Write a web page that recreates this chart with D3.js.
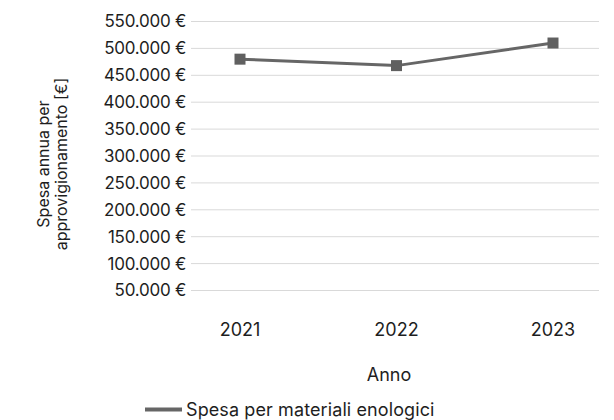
<!DOCTYPE html>
<html><head><meta charset="utf-8">
<script src="https://cdn.jsdelivr.net/npm/d3@7"></script>
<style>
html,body{margin:0;padding:0;background:#fff;}
svg text{font-family:Inter,"Noto Sans",sans-serif;fill:#1e1e1e;}
</style></head>
<body>
<svg id="c" width="614" height="420"></svg>
<script>
const categories = ["2021", "2022", "2023"];
const values = [480000, 468000, 510000];
const yTicks = [50000,100000,150000,200000,250000,300000,350000,400000,450000,500000,550000];
const seriesName = "Spesa per materiali enologici";
const xTitle = "Anno";
const yTitle = ["Spesa annua per", "approvigionamento [€]"];

const svg = d3.select("#c");
const locale = d3.formatLocale({decimal: ",", thousands: ".", grouping: [3], currency: ["", " €"]});
const fmt = v => locale.format(",d")(v) + " €";

const y = d3.scaleLinear().domain([50000, 550000]).range([290.5, 21.5]);
const x = d3.scalePoint().domain(categories).range([240, 553]);
const gridX0 = 191, gridX1 = 599;

// gridlines
svg.append("g").selectAll("line").data(yTicks).join("line")
  .attr("x1", gridX0).attr("x2", gridX1)
  .attr("y1", d => y(d)).attr("y2", d => y(d))
  .attr("stroke", "#d9d9d9").attr("stroke-width", 1);

// y labels
svg.append("g").selectAll("text").data(yTicks).join("text")
  .attr("x", 186).attr("y", d => y(d)).attr("dy", "0.35em")
  .attr("text-anchor", "end").attr("font-size", 17)
  .attr("letter-spacing", "-0.25")
  .text(fmt);

// x labels
svg.append("g").selectAll("text").data(categories).join("text")
  .attr("x", d => x(d)).attr("y", 330).attr("dy", "0.35em")
  .attr("text-anchor", "middle").attr("font-size", 18)
  .text(d => d);

// line
const line = d3.line().x((d, i) => x(categories[i])).y(d => y(d));
svg.append("path").datum(values).attr("d", line)
  .attr("fill", "none").attr("stroke", "#666666").attr("stroke-width", 3);

// markers
svg.append("g").selectAll("rect").data(values).join("rect")
  .attr("x", (d, i) => x(categories[i]) - 5.5)
  .attr("y", d => y(d) - 5.5)
  .attr("width", 11).attr("height", 11)
  .attr("fill", "#606060");

// axis titles
svg.append("text").attr("x", 389).attr("y", 375).attr("dy", "0.35em")
  .attr("text-anchor", "middle").attr("font-size", 18).text(xTitle);

const yt = svg.append("text").attr("transform", "translate(53,164) rotate(-90)")
  .attr("text-anchor", "middle").attr("font-size", 16);
yt.selectAll("tspan").data(yTitle).join("tspan")
  .attr("x", 0).attr("dy", (d, i) => i === 0 ? "-0.25em" : "1.15em").text(d => d);

// legend
const lg = svg.append("g");
lg.append("line").attr("x1", 145).attr("x2", 182).attr("y1", 409.5).attr("y2", 409.5)
  .attr("stroke", "#666666").attr("stroke-width", 4);
lg.append("text").attr("x", 186).attr("y", 410).attr("dy", "0.35em")
  .attr("font-size", 18).attr("letter-spacing", "0.1").text(seriesName);
</script>
</body></html>
